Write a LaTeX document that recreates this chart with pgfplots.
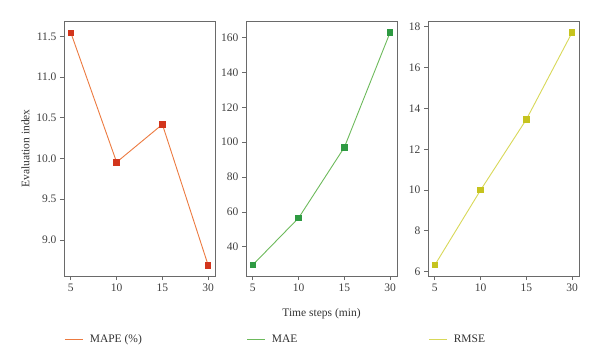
\documentclass[border=0pt]{standalone}
\usepackage{pgfplots}
\pgfplotsset{compat=1.18}
\usepackage{fontspec}
\setmainfont{Liberation Serif}
\definecolor{mapeL}{HTML}{EC7A40}
\definecolor{mapeM}{HTML}{D2351C}
\definecolor{maeL}{HTML}{6DBA5C}
\definecolor{maeM}{HTML}{2E9A42}
\definecolor{rmseL}{HTML}{D8D858}
\definecolor{rmseM}{HTML}{C6C31E}
\definecolor{frame}{HTML}{6A6A6A}
\pgfplotsset{
  panel/.style={
    anchor=north west,
    scale only axis,
    width=151pt, height=255pt,
    xmin=-0.15, xmax=3.15,
    xtick={0,1,2,3}, xticklabels={5,10,15,30},
    axis line style={frame, line width=0.8pt},
    tick style={frame, line width=0.8pt},
    tick align=outside, major tick length=4pt,
    xtick pos=bottom, ytick pos=left,
    /pgf/number format/assume math mode=true,
    tick label style={font=\fontsize{11.5}{13}\selectfont, text=black!75},
    label style={font=\fontsize{11.5}{13}\selectfont, text=black!80},
    legend style={draw=white, font=\fontsize{11.5}{13}\selectfont,
      at={(0,-0.249)}, anchor=west, inner xsep=0pt, inner ysep=2pt,
      /tikz/every odd column/.append style={column sep=4pt}},
    every axis plot/.append style={line width=0.9pt, mark=square*, mark size=2.8pt},
  }
}
\begin{document}
\begin{tikzpicture}
\useasboundingbox (0,0) rectangle (600pt,-358pt);
\begin{axis}[panel, at={(64pt,-21pt)},
  ymin=8.557, ymax=11.69,
  ytick={9.0,9.5,10.0,10.5,11.0,11.5},
  yticklabel style={/pgf/number format/.cd, fixed, fixed zerofill, precision=1},
  ylabel={Evaluation index}]
\addplot[color=mapeL, mark options={draw=mapeM, fill=mapeM},
  legend image code/.code={\draw[draw=mapeL, line width=1.6pt] (0pt,0pt) -- (18pt,0pt);}] coordinates {(0,11.545) (1,9.955) (2,10.42) (3,8.69)};
\addlegendentry{\textcolor{black!80}{MAPE (\%)}}
\end{axis}
\begin{axis}[panel, at={(246pt,-21pt)},
  ymin=23.3, ymax=169.5,
  ytick={40,60,80,100,120,140,160},
  xlabel={Time steps (min)},
  xlabel style={at={(axis description cs:0.5,-0.149)}, anchor=center}]
\addplot[color=maeL, mark options={draw=maeM, fill=maeM},
  legend image code/.code={\draw[draw=maeL, line width=1.6pt] (0pt,0pt) -- (18pt,0pt);}] coordinates {(0,29.7) (1,56.6) (2,97.1) (3,163.0)};
\addlegendentry{\textcolor{black!80}{MAE}}
\end{axis}
\begin{axis}[panel, at={(428pt,-21pt)},
  ymin=5.79, ymax=18.28,
  ytick={6,8,10,12,14,16,18}]
\addplot[color=rmseL, mark options={draw=rmseM, fill=rmseM},
  legend image code/.code={\draw[draw=rmseL, line width=1.6pt] (0pt,0pt) -- (18pt,0pt);}] coordinates {(0,6.33) (1,10.0) (2,13.46) (3,17.72)};
\addlegendentry{\textcolor{black!80}{RMSE}}
\end{axis}
\end{tikzpicture}
\end{document}
